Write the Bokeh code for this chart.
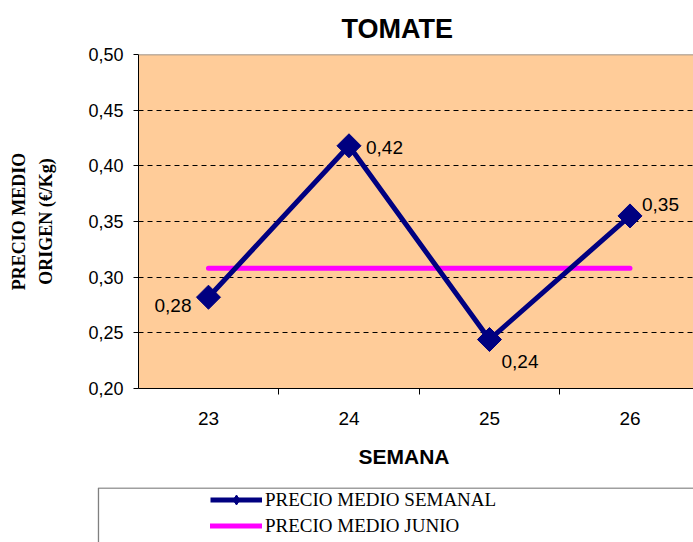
from math import pi
from bokeh.plotting import figure
from bokeh.models import (ColumnDataSource, Range1d, FixedTicker, Span, Title,
                          Legend, LegendItem)
from bokeh.layouts import column
from bokeh.core.properties import value
from bokeh.embed import file_html
from bokeh.resources import INLINE

# ---- data ----
weeks = [23, 24, 25, 26]
week_labels = ["23", "24", "25", "26"]
weekly_price = [0.282, 0.418, 0.244, 0.355]
weekly_price_labels = ["0,28", "0,42", "0,24", "0,35"]
june_price = [0.308, 0.308, 0.308, 0.308]
y_ticks = [0.20, 0.25, 0.30, 0.35, 0.40, 0.45, 0.50]
y_tick_labels = ["0,20", "0,25", "0,30", "0,35", "0,40", "0,45", "0,50"]

title_text = "TOMATE"
x_title = "SEMANA"
y_title_1 = "PRECIO MEDIO"
y_title_2 = "ORIGEN (€/Kg)"
series_names = ["PRECIO MEDIO SEMANAL", "PRECIO MEDIO JUNIO"]

NAVY = "#000080"
MAGENTA = "#FF00FF"
BG = "#FFCC99"
SANS = "Liberation Sans"
SERIF = "Liberation Serif"

# ---- main chart ----
p = figure(width=693, height=487, output_backend="svg", toolbar_location=None,
           x_range=Range1d(22.502, 26.452), y_range=Range1d(0.2, 0.5),
           min_border_left=138, min_border_right=0, min_border_top=54,
           min_border_bottom=99)
p.background_fill_color = BG
p.border_fill_color = "white"
p.outline_line_color = None
try:
    p.frame_align = False
except Exception:
    pass

# axes
p.xaxis.ticker = FixedTicker(ticks=weeks,
                             minor_ticks=[w - 0.5 for w in weeks] + [weeks[-1] + 0.5])
p.xaxis.major_label_overrides = {w: l for w, l in zip(weeks, week_labels)}
p.xaxis.major_tick_out = 0
p.xaxis.major_tick_in = 0
p.xaxis.minor_tick_out = 6
p.xaxis.minor_tick_in = 0
p.xaxis.minor_tick_line_color = "black"
p.xaxis.axis_line_color = "black"
p.xaxis.major_label_text_font = SANS
p.xaxis.major_label_text_font_size = "19px"
p.xaxis.major_label_text_color = "black"
p.xaxis.major_label_standoff = 17

p.yaxis.ticker = FixedTicker(ticks=y_ticks, minor_ticks=[])
p.yaxis.major_label_overrides = {t: l for t, l in zip(y_ticks, y_tick_labels)}
p.yaxis.major_tick_out = 5
p.yaxis.major_tick_in = 0
p.yaxis.major_tick_line_color = "black"
p.yaxis.axis_line_color = "black"
p.yaxis.major_label_text_font = SANS
p.yaxis.major_label_text_font_size = "18px"
p.yaxis.major_label_text_color = "black"
p.yaxis.major_label_standoff = 10
p.yaxis.axis_label = y_title_1 + "\n" + y_title_2
p.yaxis.axis_label_text_font = SERIF
p.yaxis.axis_label_text_font_size = "18px"
p.yaxis.axis_label_text_font_style = "bold"
p.yaxis.axis_label_text_color = "black"
p.yaxis.axis_label_text_line_height = 1.35
p.yaxis.axis_label_standoff = 29

p.xgrid.grid_line_color = None
p.ygrid.grid_line_color = "black"
p.ygrid.grid_line_dash = "5 4"
p.ygrid.grid_line_width = 1

# top border of plot area
p.add_layout(Span(location=y_ticks[-1], dimension="width",
                  line_color="#808080", line_width=1.5))

src = ColumnDataSource(dict(
    x=weeks, y=weekly_price, junio=june_price, lbl=weekly_price_labels,
    xo=[-17, 17, 12, 12], yo=[8, 2, 22, -11],
    align=["right", "left", "left", "left"],
))

p.line("x", "junio", source=src, line_color=MAGENTA, line_width=5,
       line_cap="round")
p.line("x", "y", source=src, line_color=NAVY, line_width=5)
p.scatter("x", "y", source=src, marker="square", size=17, angle=pi / 4,
          fill_color=NAVY, line_color=NAVY)
p.text("x", "y", text="lbl", source=src, x_offset="xo", y_offset="yo",
       text_align="align", text_baseline="alphabetic",
       text_font=value(SANS), text_font_size="19px", text_color="black")

# titles
p.title.text = title_text
p.title.align = "left"
p.title.offset = 203
p.title.standoff = 21
p.title.text_font = SANS
p.title.text_font_size = "27px"
p.title.text_font_style = "bold"
p.title.text_color = "black"

p.add_layout(Title(text=x_title, align="left", offset=220, standoff=30,
                   text_font=SANS, text_font_size="21px",
                   text_font_style="bold", text_color="black"), "below")

# ---- legend panel ----
lg = figure(width=693, height=55, output_backend="svg", toolbar_location=None,
            x_range=Range1d(0, 1), y_range=Range1d(0, 1),
            min_border_left=97, min_border_right=0, min_border_top=0,
            min_border_bottom=0)
try:
    lg.frame_align = False
except Exception:
    pass
lg.axis.visible = False
lg.grid.visible = False
lg.outline_line_color = None
lg.background_fill_color = "white"
lg.border_fill_color = "white"
lg.quad(left=[0.0015], right=[2], top=[0.99], bottom=[-1],
        fill_color=None, line_color="#808080", line_width=1.5)

# legend renderers reuse the series source; its points lie outside this panel's range
r_line = lg.line("x", "y", source=src, line_color=NAVY, line_width=5)
r_mark = lg.scatter("x", "y", source=src, marker="diamond", size=17,
                    fill_color=NAVY, line_color=NAVY)
r_jun = lg.line("x", "junio", source=src, line_color=MAGENTA, line_width=5,
                line_cap="round")

legend = Legend(items=[LegendItem(label=series_names[0], renderers=[r_line, r_mark]),
                       LegendItem(label=series_names[1], renderers=[r_jun])],
                location=(113, 4), orientation="vertical",
                glyph_width=52, glyph_height=25, label_height=20,
                label_standoff=3, spacing=1, padding=0, margin=0,
                label_text_font=SERIF, label_text_font_size="19px",
                label_text_color="black",
                border_line_color=None, background_fill_alpha=0)
lg.add_layout(legend, "center")

layout = column(p, lg, spacing=0)

with open("out.html", "w") as f:
    f.write(file_html(layout, INLINE))
